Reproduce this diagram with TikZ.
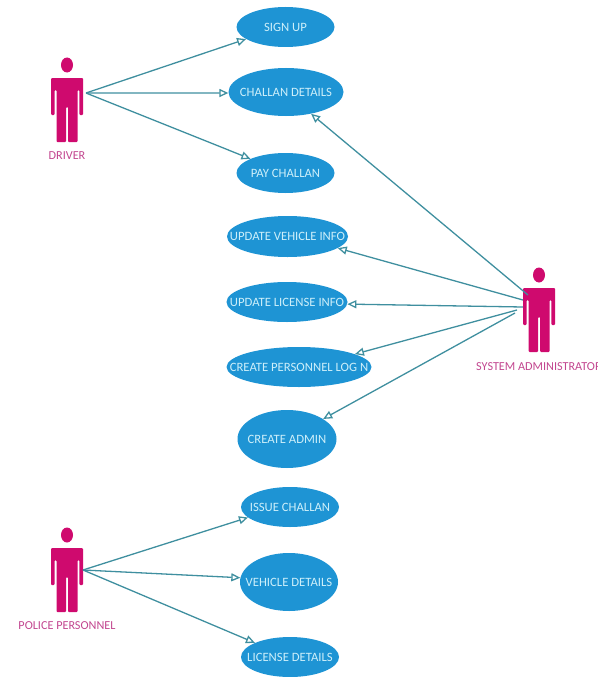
\documentclass[tikz,border=0pt]{standalone}
\usepackage{fontspec}
\setmainfont{Carlito}
\usetikzlibrary{shapes.geometric,arrows.meta}
\definecolor{usecase}{HTML}{1E94D4}
\definecolor{usetext}{HTML}{CDEFFA}
\definecolor{actorcol}{HTML}{CF0A6E}
\definecolor{actortext}{HTML}{C2468F}
\definecolor{linkcol}{HTML}{3F8F9F}
\newcommand{\casetext}[1]{\makebox[0pt]{\fontsize{12.7}{13}\selectfont #1}}
\tikzset{
  every picture/.style={x=1pt,y=-1pt},
  usecasenode/.style={ellipse,fill=usecase,draw=none,inner sep=0pt,text=usetext,text depth=0pt},
  actorlabel/.style={text=actortext,font=\fontsize{12.2}{13}\selectfont,inner sep=0pt},
  link/.style={draw=linkcol,line width=1.3pt,-{Triangle[open,length=9pt,width=8pt]}},
  pics/actorfig/.style={code={
    \fill[actorcol] (0,8) ellipse [x radius=6,y radius=7.5];
    \fill[actorcol,rounded corners=1pt] (-16,21) -- (16,21) -- (16,58) -- (12.3,58) -- (12.3,33) -- (10.5,33) -- (10.5,85) -- (1,85) -- (1,50) -- (-1,50) -- (-1,85) -- (-10.5,85) -- (-10.5,33) -- (-12.3,33) -- (-12.3,58) -- (-16,58) -- cycle;
  }}
}
\begin{document}
\begin{tikzpicture}
\useasboundingbox (0,0) rectangle (605,677);
\node[usecasenode,minimum width=98pt,minimum height=40pt] (sign) at (285.5,27) {\casetext{SIGN UP}};
\node[usecasenode,minimum width=115pt,minimum height=48pt] (chal) at (286,92) {\casetext{CHALLAN DETAILS}};
\node[usecasenode,minimum width=98pt,minimum height=40pt] (pay) at (285.5,173) {\casetext{PAY CHALLAN}};
\node[usecasenode,minimum width=121pt,minimum height=41pt] (uveh) at (287.5,236.5) {\casetext{UPDATE VEHICLE INFO}};
\node[usecasenode,minimum width=121pt,minimum height=40pt] (ulic) at (287,302) {\casetext{UPDATE LICENSE INFO}};
\node[usecasenode,minimum width=145pt,minimum height=40pt] (cper) at (299,367) {\casetext{CREATE PERSONNEL LOG N}};
\node[usecasenode,minimum width=99pt,minimum height=58pt] (cadm) at (287,439) {\casetext{CREATE ADMIN}};
\node[usecasenode,minimum width=98pt,minimum height=40pt] (issue) at (290,507) {\casetext{ISSUE CHALLAN}};
\node[usecasenode,minimum width=98pt,minimum height=58pt] (vdet) at (289,582) {\casetext{VEHICLE DETAILS}};
\node[usecasenode,minimum width=98pt,minimum height=40pt] (ldet) at (290,657) {\casetext{LICENSE DETAILS}};

\pic at (67,57) {actorfig};
\pic at (539,267) {actorfig};
\pic at (67,527) {actorfig};
\node[actorlabel] (ldriver) at (67,156) {DRIVER};
\begin{scope}
\clip (470,355) rectangle (597,380);
\node[actorlabel,anchor=west] (ladmin) at (476,367) {SYSTEM ADMINISTRATOR};
\end{scope}
\node[actorlabel] (lpolice) at (67,626) {POLICE PERSONNEL};

\coordinate (drv) at (86,93);
\coordinate (pol) at (83,570);
\coordinate (adma) at (528,295);
\coordinate (admb) at (523,300);
\coordinate (admc) at (523,307);
\coordinate (admd) at (517,310);
\coordinate (adme) at (515,313);

\draw[link] (drv) -- (sign.197);
\draw[link] (drv) -- (chal.181);
\draw[link] (drv) -- (pay.158);
\draw[link] (adma) -- (chal.-41.5);
\draw[link] (admb) -- (uveh.-13.6);
\draw[link] (admc) -- (ulic.-2);
\draw[link] (admd) -- (cper.13.5);
\draw[link] (adme) -- (cadm.29);
\draw[link] (pol) -- (issue.194.7);
\draw[link] (pol) -- (vdet.175);
\draw[link] (pol) -- (ldet.158.5);
\end{tikzpicture}
\end{document}
